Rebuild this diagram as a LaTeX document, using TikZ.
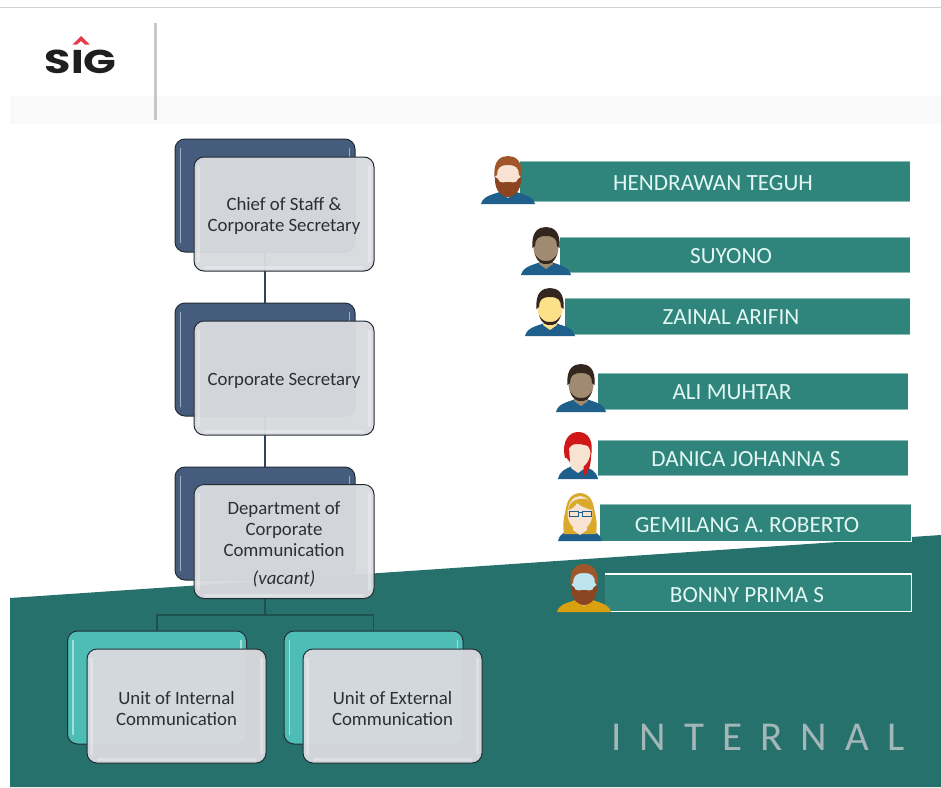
\documentclass[tikz,border=0pt]{standalone}
\usepackage{fontspec}
\setmainfont{Carlito}
\newfontfamily\logofont{Poppins}
\definecolor{tealbg}{HTML}{27716C}
\definecolor{bannerc}{HTML}{2F857B}
\definecolor{bannertxt}{HTML}{E2F6F3}
\definecolor{navyb}{HTML}{465C7C}
\definecolor{navyl}{HTML}{2C4460}
\definecolor{aquab}{HTML}{4DBDB5}
\definecolor{frontc}{HTML}{D8DADE}
\definecolor{edgec}{HTML}{232C35}
\definecolor{txtc}{HTML}{2B3036}
\definecolor{shirtb}{HTML}{1F5F8B}
\definecolor{skinp}{HTML}{F8E3D3}
\definecolor{skind}{HTML}{A08A70}
\definecolor{skiny}{HTML}{FDE08A}
\definecolor{hairb}{HTML}{A0562A}
\definecolor{beardb}{HTML}{8B4520}
\definecolor{haird}{HTML}{33261F}
\definecolor{hairr}{HTML}{D01818}
\definecolor{hairy}{HTML}{D9A92A}
\definecolor{shirty}{HTML}{D9A010}
\definecolor{skinc}{HTML}{BFE4EE}
\definecolor{wmc}{HTML}{A3B6B8}
\definecolor{redlogo}{HTML}{E8394A}
\newcommand{\fstrut}{\rule{0pt}{18pt}}
\tikzset{
  backnavy/.style={draw=edgec,line width=1pt,fill=navyb,rounded corners=10pt,minimum width=180pt,minimum height=113pt,inner sep=0pt},
  backaqua/.style={draw=edgec,line width=1pt,fill=aquab,rounded corners=10pt,minimum width=179pt,minimum height=113pt,inner sep=0pt},
  frontbox/.style={draw=edgec,line width=1pt,fill=frontc,fill opacity=0.96,text opacity=1,rounded corners=10pt,minimum width=180pt,minimum height=114pt,inner sep=0pt,align=center,text=txtc,font=\fontsize{18.8}{21}\selectfont},
  banner/.style={fill=bannerc,inner sep=0pt,anchor=north west},
  bannerEdge/.style={draw=bannerc!55!white,line width=0.8pt},
  bannertext/.style={text=bannertxt,font=\fontsize{23.2}{26}\selectfont,inner sep=0pt,yshift=-1pt},
  linknavy/.style={draw=navyl,line width=2pt},
  linkteal/.style={draw=tealbg!72!black,line width=1.5pt},
  glossback/.style={draw=white,draw opacity=0.5,line width=1.6pt,line cap=round},
  glossfront/.style={draw=white,draw opacity=0.3,line width=3pt,line cap=round},
}
% avatar parts, local frame: x=0 is the axis of the head, y=0 its top
\newcommand{\avShoulders}[2]{\fill[#1] (-#2,47) .. controls (-#2+2,38) and (-12,37) .. (-6,34) -- (6,34) .. controls (12,37) and (#2-2,38) .. (#2,47) -- cycle;}
\newcommand{\avNeck}[1]{\fill[#1] (-6,26) -- (6,26) -- (7,36) -- (0,41) -- (-7,36) -- cycle;}
\newcommand{\avHead}[1]{\fill[#1] (0,19) ellipse[x radius=12.5pt,y radius=17pt];}
\newcommand{\avHair}[1]{\fill[#1] (-13.5,20) .. controls (-15,3) and (-7,-1) .. (0,-1) .. controls (7,-1) and (15,3) .. (13.5,20) -- (11,18) .. controls (11,11) and (8,8) .. (0,8) .. controls (-8,8) and (-11,11) .. (-11,18) -- cycle;}
\newcommand{\avBeard}[1]{\fill[#1] (-13,20) .. controls (-14,36) and (-4,40) .. (0,40) .. controls (4,40) and (14,36) .. (13,20) -- (10,22) .. controls (9,27) and (4,25) .. (0,25) .. controls (-4,25) and (-9,27) .. (-10,22) -- cycle;}
\newcommand{\avStubble}[1]{\fill[#1] (-11,26) .. controls (-8,36) and (-3,36) .. (0,36) .. controls (3,36) and (8,36) .. (11,26) .. controls (7,33) and (3,33) .. (0,33) .. controls (-3,33) and (-7,33) .. (-11,26) -- cycle;}
\begin{document}
\begin{tikzpicture}[x=1pt,y=-1pt]
\useasboundingbox (0,0) rectangle (941,787);
\fill[white] (0,0) rectangle (941,787);
% page furniture
\fill[black!18] (0,6.5) rectangle (941,7.5);
\fill[black!2.5] (10,96) rectangle (941,124);
\fill[black!22] (154,23) rectangle (157,120);
\fill[tealbg] (10,598) -- (941,535) -- (941,787) -- (10,787) -- cycle;
% logo
\fill[redlogo] (81,36) -- (89.5,44.5) -- (85,44.5) -- (81,41) -- (77,44.5) -- (72.5,44.5) -- cycle;
\node[font=\logofont\bfseries\fontsize{33}{33}\selectfont,text=black!88,inner sep=0pt,xscale=1.3,transform shape] (logo) at (80.5,62) {SIG};
% back boxes
\node[backnavy] (b1) at (265,195.5) {};
\node[backnavy] (b2) at (265,359.5) {};
\node[backnavy] (b3) at (265,523.5) {};
\node[backaqua] (u1) at (157,687.5) {};
\node[backaqua] (u2) at (373.5,687.5) {};
\coordinate (j) at (265,615);
% connectors
\draw[linknavy] (b1.south) -- (b2.north);
\draw[linknavy] (b2.south) -- (b3.north);
\draw[linkteal] (b3.south) -- (j);
\draw[linkteal] (u1.north) |- (j) -| (u2.north);
\foreach \n in {b1,b2,b3,u1,u2}{
  \draw[glossback] ([xshift=6pt,yshift=-10pt]\n.north west) -- ([xshift=6pt,yshift=10pt]\n.south west);
  \draw[glossback] ([xshift=-6pt,yshift=-10pt]\n.north east) -- ([xshift=-6pt,yshift=-18pt]\n.north east);
}
% front boxes
\node[frontbox] (f1) at (284,214) {\fstrut Chief of Staff \&\\Corporate Secretary};
\node[frontbox] (f2) at (284,378) {\fstrut Corporate Secretary};
\node[frontbox] (f3) at (284,541.5) {\fstrut Department of\\Corporate\\Communication\\[7pt]{\itshape (vacant)}};
\node[frontbox,minimum width=179pt] (f4) at (176.5,706) {\fstrut Unit of Internal\\Communication};
\node[frontbox,minimum width=179pt] (f5) at (392.5,706) {\fstrut Unit of External\\Communication};
\foreach \n in {f1,f2,f3,f4,f5}{
  \draw[glossfront] ([xshift=5pt,yshift=-10pt]\n.north west) -- ([xshift=5pt,yshift=10pt]\n.south west);
  \draw[glossfront] ([xshift=-5pt,yshift=-10pt]\n.north east) -- ([xshift=-5pt,yshift=10pt]\n.south east);
  \draw[glossfront] ([xshift=12pt,yshift=4pt]\n.south west) -- ([xshift=-12pt,yshift=4pt]\n.south east);
}
% banners
\node[banner,minimum width=390pt,minimum height=40pt] (n1) at (520,161) {};
\node[banner,minimum width=350pt,minimum height=35pt] (n2) at (560,237) {};
\node[banner,minimum width=345pt,minimum height=36pt] (n3) at (565,298) {};
\node[banner,minimum width=310pt,minimum height=36pt] (n4) at (598,373) {};
\node[banner,minimum width=310pt,minimum height=35pt] (n5) at (598,440) {};
\node[banner,minimum width=311pt,minimum height=37pt] (n6) at (600,504) {};
\node[banner,minimum width=306pt,minimum height=37pt] (n7) at (605,574) {};
\foreach \n in {n1,n2,n3,n4,n5}{
  \draw[bannerEdge] (\n.north west) -- (\n.north east);
  \draw[bannerEdge] (\n.south west) -- (\n.south east);
}
\draw[bannerEdge] (n6.north west) -- (n6.north east);
\draw[white,line width=1.5pt] (n6.north east) -- (n6.south east) -- (n6.south west);
\draw[white,line width=1.5pt] (n7.north west) -- (n7.north east) -- (n7.south east) -- (n7.south west);
\node[bannertext] (t1) at (713,182) {HENDRAWAN TEGUH};
\node[bannertext] (t2) at (731,255) {SUYONO};
\node[bannertext] (t3) at (731,316) {ZAINAL ARIFIN};
\node[bannertext] (t4) at (732,391) {ALI MUHTAR};
\node[bannertext] (t5) at (746,458) {DANICA JOHANNA S};
\node[bannertext] (t6) at (747,524) {GEMILANG A. ROBERTO};
\node[bannertext] (t7) at (747,594) {BONNY PRIMA S};
% avatars
\begin{scope}[shift={(508,157)}]
  \avShoulders{shirtb}{27}\avNeck{skinp}\avHead{skinp}\avHair{hairb}\avBeard{beardb}
\end{scope}
\begin{scope}[shift={(546,228)}]
  \avShoulders{shirtb}{25}\avNeck{skind}\avHead{skind}\avHair{haird}\avStubble{haird}
\end{scope}
\begin{scope}[shift={(550,289)}]
  \avShoulders{shirtb}{25}\avNeck{skiny}\avHead{skiny}\avHair{haird}\avStubble{haird}
\end{scope}
\begin{scope}[shift={(581,365)}]
  \avShoulders{shirtb}{25}\avNeck{skind}\avHead{skind}\avHair{haird}\avStubble{haird}
\end{scope}
\begin{scope}[shift={(578,432)}]
  \avShoulders{shirtb}{20}\avNeck{skinp}
  \fill[hairr] (-13,26) .. controls (-17,8) and (-8,0) .. (0,0) .. controls (10,0) and (16,8) .. (13,24) .. controls (13,32) and (11,40) .. (6,44) -- (5,24) -- cycle;
  \avHead{skinp}
  \fill[hairr] (-13,24) .. controls (-15,6) and (-6,1) .. (2,2) .. controls (8,2) and (14,8) .. (13,20) -- (10,14) .. controls (4,12) and (-6,10) .. (-9,16) -- (-8,30) -- cycle;
\end{scope}
\begin{scope}[shift={(580,494)}]
  \avShoulders{shirtb}{22}
  \fill[hairy] (-16,40) .. controls (-18,28) and (-15,20) .. (-14,14) .. controls (-12,2) and (-5,-1) .. (0,-1) .. controls (5,-1) and (12,2) .. (14,14) .. controls (15,20) and (18,28) .. (16,40) -- cycle;
  \avNeck{skinp}\avHead{skinp}
  \fill[hairy] (-12,16) .. controls (-10,6) and (-2,4) .. (6,5) .. controls (10,7) and (12,11) .. (12,16) .. controls (6,14) and (0,12) .. (-3,9) .. controls (-5,13) and (-9,15) .. (-12,16) -- cycle;
  \draw[shirtb,line width=1pt] (-11,17) rectangle (-2,22) (2,17) rectangle (11,22) (-2,18) -- (2,18);
\end{scope}
\begin{scope}[shift={(584,565)}]
  \avShoulders{shirty}{27}\avNeck{skinc}\avHead{skinc}\avHair{hairb}\avBeard{beardb}
\end{scope}
% watermark
\node[inner sep=0pt,text=wmc,font=\fontsize{41}{41}\selectfont\addfontfeature{LetterSpace=44}] (wm) at (758,737) {INTERNAL};
\end{tikzpicture}
\end{document}
